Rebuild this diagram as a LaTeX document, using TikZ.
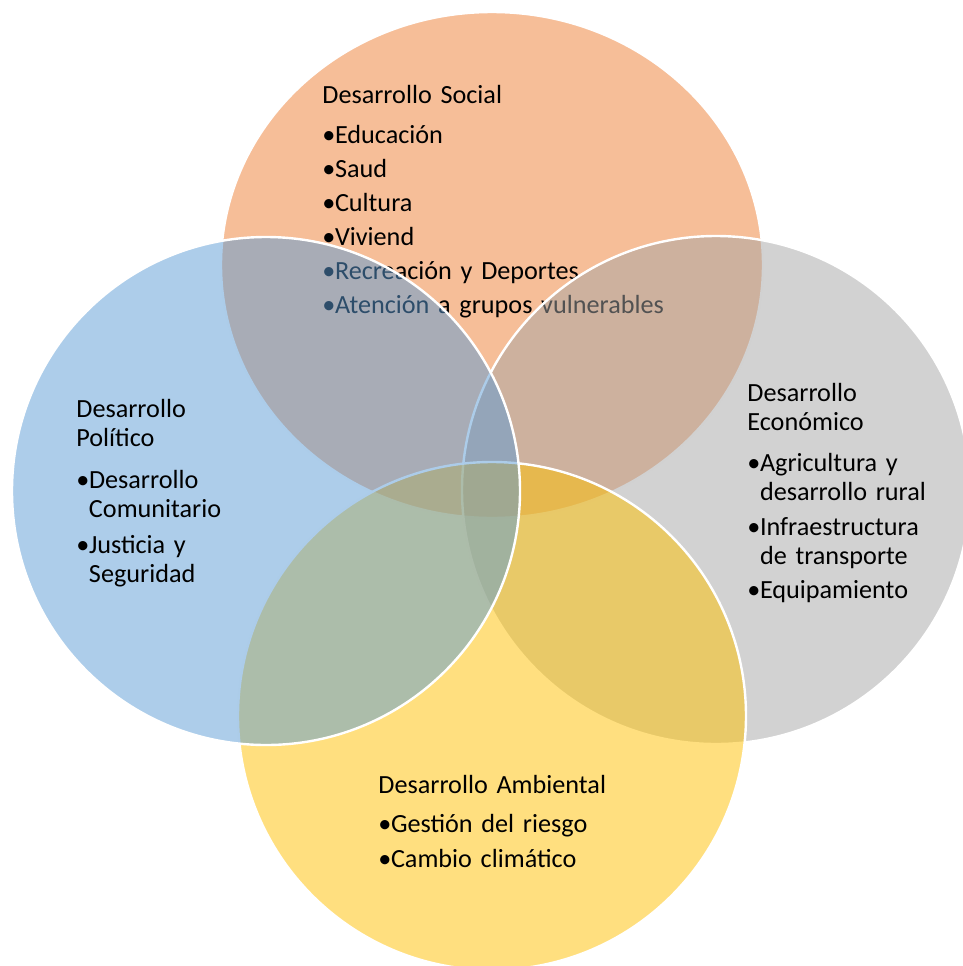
\documentclass[tikz,border=0pt]{standalone}
\usepackage{fontspec}
\setmainfont{Carlito}
\usepackage{tikz}
\usetikzlibrary{positioning}

\definecolor{socOrange}{HTML}{ED7D31}
\definecolor{ecoGray}{HTML}{A5A5A5}
\definecolor{ambYellow}{HTML}{FFC000}
\definecolor{polBlue}{HTML}{5B9BD5}

\newcommand{\bul}{\makebox[6.3pt][l]{\textbullet}}
\newcommand{\cont}{\hspace*{6.3pt}}

\begin{document}
\begin{tikzpicture}[x=0.5pt,y=-0.5pt,
    Venn/.style={draw=white, line width=1.2pt, fill opacity=.5},
    VennText/.style={anchor=base west, inner sep=0pt, text width=240pt, align=left,
                     font=\fontsize{13.1}{14.5}\selectfont, text=black}
    ]
    \useasboundingbox (0,0) rectangle (963,966);

    %centres of the four sets
    \coordinate (socC) at (492,265);
    \coordinate (ecoC) at (716,490);
    \coordinate (ambC) at (492,716);
    \coordinate (polC) at (266,491);

    %Desarrollo Social
    \draw[Venn, fill=socOrange] (socC) ellipse [x radius=135.5pt, y radius=126.5pt];
    \node[VennText] at (322,103) (soc) {Desarrollo Social\\[5.5pt]
        \bul Educación\\[2.5pt]
        \bul Saud\\[2.5pt]
        \bul Cultura\\[2.5pt]
        \bul Viviend\\[2.5pt]
        \bul Recreación y Deportes\\[2.5pt]
        \bul Atención a grupos vulnerables};

    %Desarrollo Economico
    \draw[Venn, fill=ecoGray] (ecoC) circle [radius=127pt];
    \node[VennText] at (747,401) (eco) {Desarrollo\\
        Económico\\[6pt]
        \bul Agricultura y\\
        \cont desarrollo rural\\[3pt]
        \bul Infraestructura\\
        \cont de transporte\\[2.5pt]
        \bul Equipamiento};

    %Desarrollo Ambiental
    \draw[Venn, fill=ambYellow] (ambC) circle [radius=127pt];
    \node[VennText] at (378,793) (amb) {Desarrollo Ambiental\\[5pt]
        \bul Gestión del riesgo\\[3pt]
        \bul Cambio climático};

    %Desarrollo Politico
    \draw[Venn, fill=polBlue] (polC) circle [radius=127pt];
    \node[VennText] at (76,417) (pol) {Desarrollo\\
        Político\\[6.5pt]
        \bul Desarrollo\\
        \cont Comunitario\\[3.5pt]
        \bul Justicia y\\
        \cont Seguridad};
\end{tikzpicture}
\end{document}
